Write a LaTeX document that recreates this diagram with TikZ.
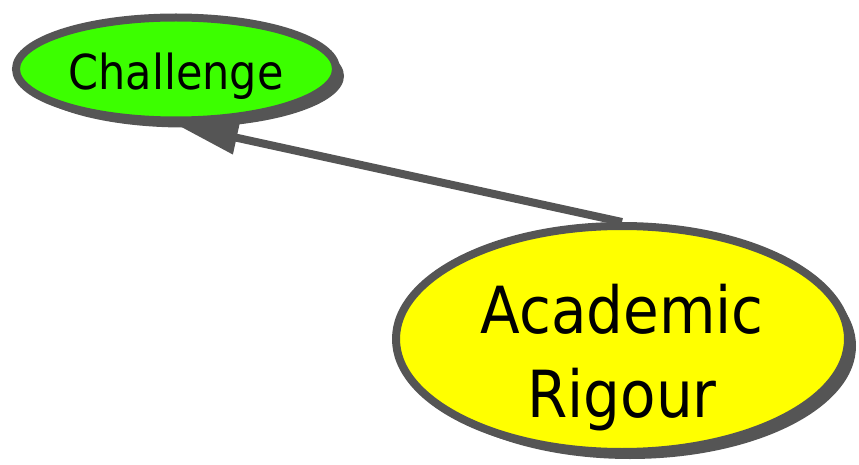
\documentclass[tikz,border=0pt]{standalone}
\usepackage{fontspec}
\setmainfont{DejaVu Sans}
\usetikzlibrary{shapes.geometric,shadows,arrows.meta,backgrounds}
\definecolor{edgegray}{HTML}{555555}
\definecolor{chgreen}{HTML}{3CFF00}
\definecolor{aryellow}{HTML}{FFFF00}
\tikzset{
  bubble/.style={ellipse, draw=edgegray, line width=8pt, inner sep=0pt, text=black, align=center,
    drop shadow={shadow xshift=8pt, shadow yshift=-7pt, fill=edgegray, opacity=1}},
  bubbletext/.style={text=black, align=center, inner sep=0pt},
  link/.style={draw=edgegray, line width=8pt, -{Triangle[length=62pt,width=32pt]}}
}
\begin{document}
\begin{tikzpicture}[x=1pt,y=-1pt]
\useasboundingbox (0,0) rectangle (859,465);
\node[bubble, fill=chgreen, minimum width=320pt, minimum height=103pt,
  label={[bubbletext, yshift=-7pt, font=\fontsize{43}{48}\selectfont]center:\scalebox{1}[1.12]{Challenge}}] (ch) at (176,69) {};
\node[bubble, fill=aryellow, minimum width=452pt, minimum height=226pt,
  label={[bubbletext, yshift=-19pt, font=\fontsize{58}{84}\selectfont]center:\scalebox{1}[1.12]{Academic}\\\scalebox{1}[1.12]{Rigour}}] (ar) at (622,339) {};
\begin{scope}[on background layer]
\draw[link] (ar.north) -- (ch.south);
\end{scope}
\end{tikzpicture}
\end{document}
